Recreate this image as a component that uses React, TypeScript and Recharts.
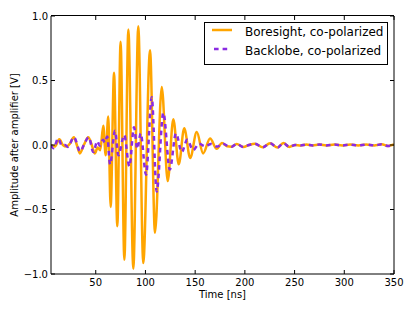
import React from 'react';
import { LineChart, Line, XAxis, YAxis, Legend, ReferenceLine } from 'recharts';

// Boresight, co-polarized (time in ns, amplitude in V)
const boresightTime = [
  5, 9, 13.4, 17, 20.5, 24, 28, 31, 34, 38, 42.5, 46, 49, 52, 54.5,
  57.6, 60, 62.6, 65, 68.4, 71.7, 75, 78.8, 82.8, 87.8, 92.8, 97.8, 104.6, 109.6,
  116.4, 122.4, 128, 133.5, 139, 145, 151.6, 158, 165, 171.7, 177, 182,
  186.8, 191.8, 198.5, 204, 210, 218, 225.3, 233, 238.7, 244.8, 250.5,
  256, 262, 268, 275, 282, 290, 298, 306, 314, 322, 330, 337.7, 344, 350,
];
const boresightAmp = [
  0.0, -0.012, 0.045, 0.0, -0.012, 0.01, 0.06, 0.0, -0.065, 0.0, 0.06, 0.0, -0.065, -0.02, -0.04,
  0.15, -0.08, 0.22, -0.48, 0.56, -0.63, 0.8, -0.89, 0.895, -0.96, 0.92, -0.915, 0.735, -0.68,
  0.45, -0.28, 0.2, -0.15, 0.13, -0.1, 0.1, -0.065, 0.05, -0.03, 0.015, -0.01,
  -0.013, 0.008, -0.015, 0.0, 0.01, -0.018, 0.013, -0.02, 0.015, -0.015, 0.0,
  -0.004, 0.003, -0.003, 0.004, -0.003, 0.003, -0.004, 0.003, -0.003, 0.003, -0.003, 0.005, -0.008, 0.004,
];

// Backlobe, co-polarized
const backlobeTime = [
  5, 7.5, 12.3, 16, 19, 22, 28, 34.5, 38, 43, 47.6, 51.6, 54, 57.5, 59, 61.6,
  64.4, 69.4, 72.7, 78.7, 83.8, 88.5, 91.8, 95.2, 100.6, 106.3, 111.3, 118, 124.5,
  130.7, 136.5, 142, 148, 154, 160, 166, 172, 178, 183,
  186.8, 191.8, 198.5, 204, 210, 218, 225.3, 233, 238.7, 244.8, 250.5,
  256, 262, 268, 275, 282, 290, 298, 306, 314, 322, 330, 337.7, 344, 350,
];
const backlobeAmp = [
  0.0, -0.025, 0.05, -0.005, 0.0, -0.015, 0.06, -0.05, 0.0, 0.06, -0.055, 0.03, -0.005, 0.04, 0.02, 0.065,
  -0.15, 0.11, -0.08, 0.077, -0.165, 0.137, -0.03, 0.09, -0.23, 0.37, -0.36, 0.25, -0.19,
  0.09, -0.055, 0.04, -0.04, 0.01, -0.01, 0.008, -0.012, 0.01, -0.008,
  -0.013, 0.008, -0.015, 0.0, 0.01, -0.018, 0.013, -0.02, 0.015, -0.015, 0.0,
  -0.004, 0.003, -0.003, 0.004, -0.003, 0.003, -0.004, 0.003, -0.003, 0.003, -0.003, 0.005, -0.008, 0.004,
];

const seriesNames = ['Boresight, co-polarized', 'Backlobe, co-polarized'];
const seriesColors = ['#FFA500', '#8A2BE2'];
const xDomain: [number, number] = [5, 350];
const yDomain: [number, number] = [-1, 1];
const xTicks = [50, 100, 150, 200, 250, 300, 350];
const yTicks = [-1, -0.5, 0, 0.5, 1];
const xLabel = 'Time [ns]';
const yLabel = 'Amplitude after amplifier [V]';

const boresightData = boresightTime.map((t, i) => ({ t, v: boresightAmp[i] }));
const backlobeData = backlobeTime.map((t, i) => ({ t, v: backlobeAmp[i] }));

const FONT = 'DejaVu Sans';
const DASH = '4.6 4';
const TOP_TICK_LEN = 0.031; // ~4px inward tick on the top frame, in data units

// plot-area top frame (layout)
const PLOT_LEFT = 51;
const PLOT_TOP = 15;
const PLOT_WIDTH = 343;

const fmtY = (v: number) => (v < 0 ? '\u2212' : '') + Math.abs(v).toFixed(1);
const noTick = () => <g />;

const XLabel = (props: any) => {
  const vb = props.viewBox;
  return (
    <text x={vb.x + vb.width / 2} y={vb.y + 24} textAnchor="middle" fontSize={10} fontFamily={FONT} fill="#000">
      {xLabel}
    </text>
  );
};

const YLabel = (props: any) => {
  const vb = props.viewBox;
  const x = vb.x + 17.8;
  const y = vb.y + vb.height / 2;
  return (
    <text x={x} y={y} transform={`rotate(-90 ${x} ${y})`} textAnchor="middle" fontSize={10} fontFamily={FONT} fill="#000">
      {yLabel}
    </text>
  );
};

const LegendBox = () => (
  <div
    style={{
      position: 'relative',
      width: 184,
      height: 43,
      boxSizing: 'border-box',
      border: '1px solid #000',
      background: '#fff',
      fontFamily: FONT,
      fontSize: 12,
      color: '#000',
    }}
  >
    {seriesNames.map((name, i) => (
      <React.Fragment key={name}>
        <svg
          width={22}
          height={6}
          style={{ position: 'absolute', left: 6.7, top: (i === 0 ? 7 : 26.3) - 3 }}
        >
          {i === 0 ? (
            <line x1={0} y1={3} x2={20} y2={3} stroke={seriesColors[i]} strokeWidth={2.5} />
          ) : (
            <line x1={2} y1={3} x2={15.3} y2={3} stroke={seriesColors[i]} strokeWidth={2.5} strokeDasharray={DASH} />
          )}
        </svg>
        <div
          style={{
            position: 'absolute',
            left: 40,
            top: i === 0 ? 2.3 : 21.3,
            height: 14,
            lineHeight: '14px',
            whiteSpace: 'nowrap',
          }}
        >
          {name}
        </div>
      </React.Fragment>
    ))}
  </div>
);

export default function App() {
  return (
    <div style={{ position: 'absolute', left: 0, top: 0, width: 415, height: 312, background: '#fff' }}>
      <LineChart width={415} height={312} margin={{ top: 16, right: 0, bottom: 0, left: 0 }}>
        <XAxis
          xAxisId="bottom"
          dataKey="t"
          type="number"
          domain={xDomain}
          allowDataOverflow
          ticks={xTicks}
          interval={0}
          height={38}
          tickSize={-4}
          tickMargin={9}
          stroke="#000"
          tick={{ fill: '#000', fontSize: 10, fontFamily: FONT }}
          label={XLabel}
        />
        <YAxis
          yAxisId="left"
          type="number"
          domain={yDomain}
          allowDataOverflow
          ticks={yTicks}
          interval={0}
          width={51}
          tickSize={-4}
          tickMargin={7}
          stroke="#000"
          tickFormatter={fmtY}
          tick={{ fill: '#000', fontSize: 10, fontFamily: FONT }}
          label={YLabel}
        />
        <YAxis
          yAxisId="right"
          orientation="right"
          type="number"
          domain={yDomain}
          allowDataOverflow
          ticks={yTicks}
          interval={0}
          width={21}
          tickSize={-4}
          stroke="#000"
          tick={noTick}
        />
        {xTicks.map((t) => (
          <ReferenceLine
            key={t}
            xAxisId="bottom"
            yAxisId="left"
            ifOverflow="visible"
            segment={[
              { x: t, y: yDomain[1] },
              { x: t, y: yDomain[1] - TOP_TICK_LEN },
            ]}
            stroke="#000"
            strokeWidth={1}
          />
        ))}
        <Legend
          layout="vertical"
          align="center"
          verticalAlign="middle"
          content={LegendBox}
          wrapperStyle={{ left: 204, top: 22, width: 184, height: 43 }}
        />
        <Line
          name={seriesNames[0]}
          data={boresightData}
          dataKey="v"
          xAxisId="bottom"
          yAxisId="left"
          type="monotone"
          stroke={seriesColors[0]}
          strokeWidth={2.5}
          dot={false}
          isAnimationActive={false}
        />
        <Line
          name={seriesNames[1]}
          data={backlobeData}
          dataKey="v"
          xAxisId="bottom"
          yAxisId="left"
          type="monotone"
          stroke={seriesColors[1]}
          strokeWidth={2.5}
          strokeDasharray={DASH}
          dot={false}
          isAnimationActive={false}
        />
      </LineChart>
      <div
        style={{
          position: 'absolute',
          left: PLOT_LEFT,
          top: PLOT_TOP,
          width: PLOT_WIDTH,
          height: 0,
          borderTop: '1px solid #000',
          zIndex: 10,
          pointerEvents: 'none',
        }}
      />
    </div>
  );
}
